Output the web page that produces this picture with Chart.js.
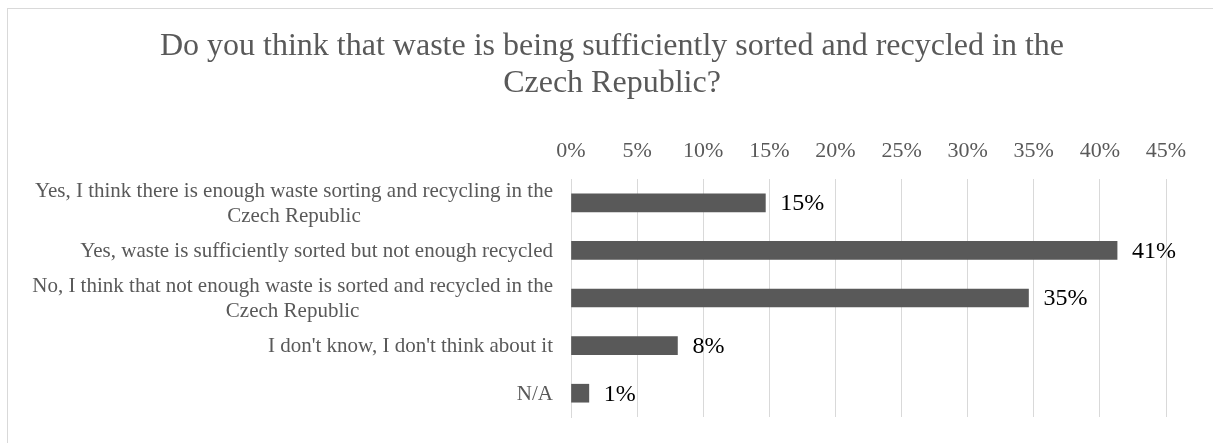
<!DOCTYPE html>
<html>
<head>
<meta charset="utf-8">
<script src="https://cdn.jsdelivr.net/npm/chart.js@4"></script>
<style>
  html, body { margin: 0; padding: 0; background: #fff; }
  canvas { display: block; }
</style>
</head>
<body>
<canvas id="chart" width="1213" height="443"></canvas>
<script>
// answers, each one split in lines like in the original
const categories = [
  ["Yes, I think there is enough waste sorting and recycling in the", "Czech Republic"],
  ["Yes, waste is sufficiently sorted but not enough recycled"],
  ["No, I think that not enough waste is sorted and recycled in the", "Czech Republic"],
  ["I don't know, I don't think about it"],
  ["N/A"]
];
const shares = [14.7, 41.3, 34.6, 8.05, 1.35];
const xTicks = [0, 5, 10, 15, 20, 25, 30, 35, 40, 45];
const titleLines = [
  "Do you think that waste is being sufficiently sorted and recycled in the",
  "Czech Republic?"
];

const serif = "'Liberation Serif', 'Times New Roman', serif";
const grey = "#595959";
const gridGrey = "#d9d9d9";

// white background + the light frame round the chart (cut on the right and bottom)
const framePlugin = {
  id: "frame",
  beforeDraw: (chart) => {
    const ctx = chart.ctx;
    ctx.save();
    ctx.fillStyle = "#fff";
    ctx.fillRect(0, 0, chart.width, chart.height);
    ctx.strokeStyle = gridGrey;
    ctx.lineWidth = 1;
    ctx.strokeRect(7.5, 8.5, 1230, 460);
    ctx.restore();
  }
};

// category labels: block right aligned, lines centred inside the block (Excel style)
const categoryLabels = {
  id: "categoryLabels",
  afterDraw: (chart) => {
    const ctx = chart.ctx;
    const y = chart.scales.y;
    const right = chart.chartArea.left - 18;
    const lineHeight = 25;
    ctx.save();
    ctx.font = "21px " + serif;
    ctx.fillStyle = grey;
    ctx.textAlign = "center";
    ctx.textBaseline = "middle";
    categories.forEach((lines, i) => {
      const maxW = Math.max(...lines.map(l => ctx.measureText(l).width));
      const cx = right - maxW / 2;
      const cy = y.getPixelForValue(i);
      const startY = cy - (lines.length - 1) * lineHeight / 2;
      lines.forEach((l, j) => ctx.fillText(l, cx, startY + j * lineHeight + 1));
    });
    ctx.restore();
  }
};

// value labels right of the bars
const valueLabels = {
  id: "valueLabels",
  afterDatasetsDraw: (chart) => {
    const ctx = chart.ctx;
    const meta = chart.getDatasetMeta(0);
    ctx.save();
    ctx.font = "24px " + serif;
    ctx.fillStyle = "#000";
    ctx.textAlign = "left";
    ctx.textBaseline = "middle";
    meta.data.forEach((bar, i) => {
      ctx.fillText(Math.round(shares[i]) + "%", bar.x + 15, bar.y + 1);
    });
    ctx.restore();
  }
};

new Chart(document.getElementById("chart"), {
  type: "bar",
  data: {
    labels: categories,
    datasets: [{
      data: shares,
      backgroundColor: grey,
      borderWidth: 0,
      barThickness: 18
    }]
  },
  options: {
    indexAxis: "y",
    responsive: false,
    animation: false,
    devicePixelRatio: 1,
    layout: {
      padding: { left: 58, right: 47, top: 0, bottom: 26 }
    },
    scales: {
      x: {
        position: "top",
        min: 0,
        max: 45,
        afterBuildTicks: (scale) => {
          scale.ticks = xTicks.map(v => ({ value: v }));
        },
        grid: { color: gridGrey, lineWidth: 1, drawTicks: false },
        border: { display: false },
        ticks: {
          padding: 15,
          color: grey,
          font: { family: serif, size: 22 },
          callback: (v) => v + "%"
        }
      },
      y: {
        grid: { display: false },
        border: { display: true, color: gridGrey, width: 1 },
        ticks: { display: false },
        afterFit: (scale) => { scale.width = 513; }
      }
    },
    plugins: {
      legend: { display: false },
      tooltip: { enabled: false },
      title: {
        display: true,
        text: titleLines,
        color: grey,
        font: { family: serif, size: 32, weight: "normal", lineHeight: 1.16 },
        padding: { top: 27.7, bottom: 20.7 }
      }
    }
  },
  plugins: [framePlugin, categoryLabels, valueLabels]
});
</script>
</body>
</html>
